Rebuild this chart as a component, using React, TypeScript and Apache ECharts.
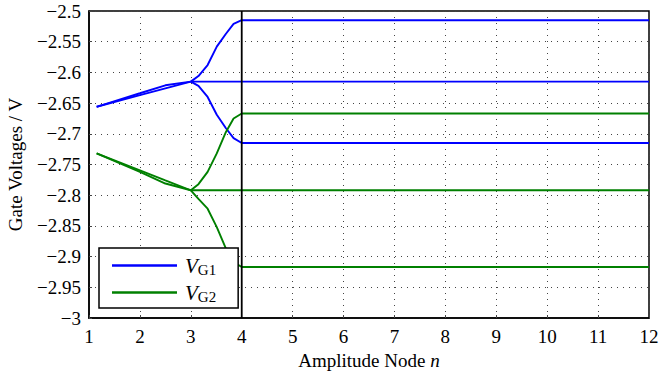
import React, { useEffect, useRef } from "react";
import * as echarts from "echarts";

// Amplitude nodes (x) and gate voltages (y)
const preX = [1.15, 2, 2.5, 3];
const vg1PreStraight = [-2.656, -2.637, -2.626, -2.615];
const vg1PreCurved = [-2.656, -2.634, -2.621, -2.615];
const vg2PreStraight = [-2.732, -2.7596, -2.776, -2.792];
const vg2PreCurved = [-2.732, -2.762, -2.781, -2.792];

const splitX = [3, 3.15, 3.33, 3.51, 3.69, 3.84, 4, 12];
const vg1Upper = [-2.615, -2.606, -2.588, -2.558, -2.537, -2.521, -2.515, -2.515];
const vg1Lower = [-2.615, -2.622, -2.640, -2.669, -2.691, -2.707, -2.715, -2.715];
const vg1Mid = [-2.615, -2.615, -2.615, -2.615, -2.615, -2.615, -2.615, -2.615];
const vg2Upper = [-2.792, -2.782, -2.762, -2.732, -2.697, -2.675, -2.667, -2.667];
const vg2Lower = [-2.792, -2.806, -2.822, -2.852, -2.887, -2.909, -2.917, -2.917];
const vg2Mid = [-2.792, -2.792, -2.792, -2.792, -2.792, -2.792, -2.792, -2.792];

const markerX = [4, 4];
const markerY = [-3, -2.5];

const BLUE = "#0000ff";
const GREEN = "#008000";
const FONT = "Times New Roman";

const zip = (xs: number[], ys: number[]) => xs.map((x, i) => [x, ys[i]]);

export default function App() {
  const ref = useRef<HTMLDivElement>(null);
  useEffect(() => {
    if (!ref.current) return;
    const chart = echarts.init(ref.current, null, { renderer: "svg" });
    const mk = (name: string, color: string, data: number[][]) => ({
      name,
      type: "line",
      data,
      symbol: "none",
      showSymbol: false,
      lineStyle: { color, width: 1.9 },
      itemStyle: { color },
      z: 3,
    });
    const fmt = (v: number) => {
      const s = String(+v.toFixed(2));
      return s.replace("-", "\u2212");
    };
    const txt = (size: number, extra: any = {}) => ({
      fontFamily: FONT,
      fontSize: size,
      fontWeight: "normal",
      color: "#000",
      ...extra,
    });
    chart.setOption({
      animation: false,
      textStyle: { fontFamily: FONT },
      grid: {
        left: 89,
        right: 10,
        top: 11,
        bottom: 58,
        containLabel: false,
        outerBoundsMode: "none",
        show: true,
        borderColor: "#000",
        borderWidth: 1.5,
        backgroundColor: "transparent",
      },
      xAxis: {
        type: "value",
        min: 1,
        max: 12,
        interval: 1,
        name: "{a|Amplitude Node }{i|n}",
        nameLocation: "middle",
        nameGap: 32,
        nameTextStyle: {
          ...txt(19),
          rich: {
            a: txt(19),
            i: txt(19, { fontStyle: "italic" }),
          },
        },
        axisLine: { show: true, lineStyle: { color: "#000", width: 1.5 } },
        axisTick: { show: true, inside: true, length: 3, lineStyle: { color: "#444" } },
        axisLabel: { ...txt(19), margin: 9 },
        splitLine: { show: true, lineStyle: { color: "#444", type: [1, 5], width: 1 } },
      },
      yAxis: {
        type: "value",
        min: -3,
        max: -2.5,
        interval: 0.05,
        name: "Gate Voltages / V",
        nameLocation: "middle",
        nameGap: 64,
        nameTextStyle: txt(19),
        axisLine: { show: true, lineStyle: { color: "#000", width: 1.5 } },
        axisTick: { show: true, inside: true, length: 3, lineStyle: { color: "#444" } },
        axisLabel: { ...txt(19), margin: 8, formatter: fmt },
        splitLine: { show: true, lineStyle: { color: "#444", type: [1, 5], width: 1 } },
      },
      legend: {
        data: ["VG1", "VG2"],
        orient: "vertical",
        left: 99,
        top: 248,
        padding: [7, 22, 4, 13],
        itemGap: 5,
        itemWidth: 65,
        itemHeight: 2.5,
        icon: "rect",
        backgroundColor: "#fff",
        borderColor: "#000",
        borderWidth: 1.5,
        borderRadius: 0,
        formatter: (name: string) =>
          name === "VG1" ? "{v|V}{s|G1}" : "{v|V}{s|G2}",
        textStyle: {
          ...txt(19),
          rich: {
            v: txt(21, { fontStyle: "italic", padding: [0, 0, 0, 3] }),
            s: txt(15, { padding: [8, 0, 0, 0] }),
          },
        },
        z: 10,
      },
      series: [
        mk("VG1", BLUE, zip(preX, vg1PreStraight)),
        mk("VG1", BLUE, zip(preX, vg1PreCurved)),
        mk("VG1", BLUE, zip(splitX, vg1Upper)),
        mk("VG1", BLUE, zip(splitX, vg1Mid)),
        mk("VG1", BLUE, zip(splitX, vg1Lower)),
        mk("VG2", GREEN, zip(preX, vg2PreStraight)),
        mk("VG2", GREEN, zip(preX, vg2PreCurved)),
        mk("VG2", GREEN, zip(splitX, vg2Upper)),
        mk("VG2", GREEN, zip(splitX, vg2Mid)),
        mk("VG2", GREEN, zip(splitX, vg2Lower)),
        {
          name: "marker",
          type: "line",
          data: zip(markerX, markerY),
          symbol: "none",
          lineStyle: { color: "#000", width: 1.8 },
          z: 4,
        },
      ],
    });
    return () => chart.dispose();
  }, []);
  return <div ref={ref} style={{ width: 659, height: 376, position: "absolute", left: 0, top: 0 }} />;
}
